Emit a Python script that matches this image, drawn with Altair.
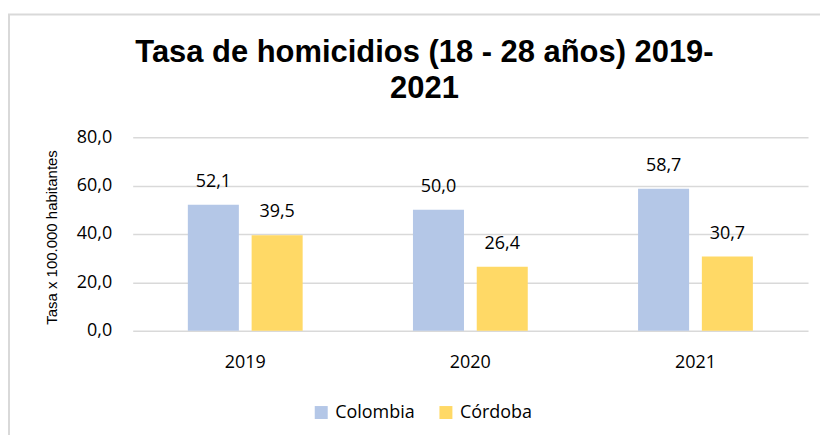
import altair as alt
import pandas as pd

years = ["2019", "2020", "2021"]
series = ["Colombia", "Córdoba"]
colombia = [52.1, 50.0, 58.7]
cordoba = [39.5, 26.4, 30.7]
colors = ["#B4C7E7", "#FFD966"]
y_ticks = [0, 20, 40, 60, 80]

rows = []
for i, yr in enumerate(years):
    rows.append({"year": yr, "serie": series[0], "value": colombia[i]})
    rows.append({"year": yr, "serie": series[1], "value": cordoba[i]})
df = pd.DataFrame(rows)

FONT = "Open Sans"
fmt = "replace(format(datum.value,'.1f'),'.',',')"

base = alt.Chart(df).encode(
    x=alt.X("year:N", sort=years,
            scale=alt.Scale(paddingInner=0.49, paddingOuter=0.245),
            axis=alt.Axis(title=None, labelAngle=0, domain=False, ticks=False,
                          labelFont=FONT, labelFontSize=18, labelColor="#000",
                          labelPadding=23, grid=False)),
    xOffset=alt.XOffset("serie:N", sort=series,
                        scale=alt.Scale(paddingInner=0.2, paddingOuter=0)),
)

bars = base.mark_bar().encode(
    y=alt.Y("value:Q", scale=alt.Scale(domain=[0, 80]),
            axis=alt.Axis(values=y_ticks, labelExpr=fmt, domain=False, ticks=False,
                          labelFont=FONT, labelFontSize=18, labelColor="#000",
                          labelPadding=21, grid=True, gridColor="#d9d9d9",
                          gridWidth=1.5,
                          title="Tasa x 100.000 habitantes", titleFont="Liberation Sans",
                          titleFontSize=15, titleFontWeight="normal", titleColor="#000",
                          titleX=-73, titleY=100, titleAngle=-90, titleAlign="center",
                          titleBaseline="bottom")),
    color=alt.Color("serie:N", sort=series,
                    scale=alt.Scale(domain=series, range=colors),
                    legend=alt.Legend(title=None, orient="none", direction="horizontal",
                                      legendX=180, legendY=267, symbolType="square",
                                      symbolSize=169, symbolStrokeWidth=0,
                                      labelFont=FONT, labelFontSize=18, labelColor="#000",
                                      columnPadding=22, labelOffset=5)),
)

labels = base.transform_calculate(lbl=fmt).mark_text(
    baseline="alphabetic", dy=-18, font=FONT, fontSize=18, color="#000"
).encode(y="value:Q", text="lbl:N")

frame = alt.Chart(pd.DataFrame({"f": [0]})).mark_rect(
    fillOpacity=0, stroke="#d9d9d9", strokeWidth=2, clip=False
).encode(x=alt.value(-124), x2=alt.value(720), y=alt.value(-123), y2=alt.value(330))

chart = alt.layer(frame, bars, labels).properties(
    width=677, height=194,
    padding={"left": 125, "top": 129, "right": 12, "bottom": 104},
    autosize=alt.AutoSizeParams(type="none"),
    title=alt.TitleParams(["Tasa de homicidios (18 - 28 años) 2019-", "2021"],
                          font="Liberation Sans", fontSize=31, fontWeight="bold",
                          color="#000", anchor="middle", dx=-46, offset=0, dy=123,
                          baseline="bottom", lineHeight=36),
).configure_view(stroke=None)

chart.save("out.html", embed_options={"renderer": "svg", "actions": False})
